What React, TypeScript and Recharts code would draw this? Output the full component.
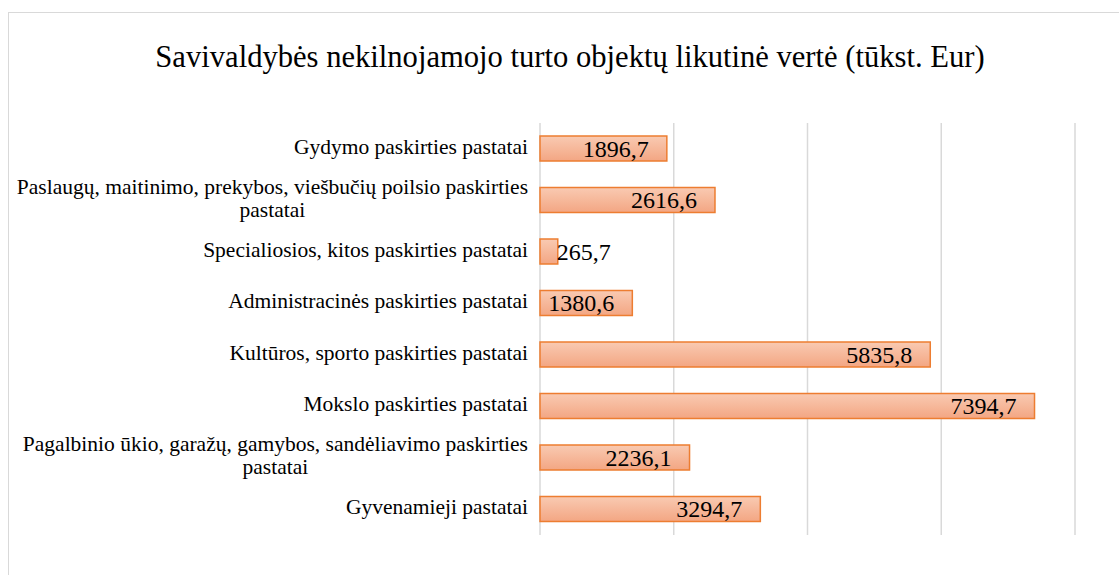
import React from "react";
import { BarChart, Bar, XAxis, YAxis, CartesianGrid, LabelList } from "recharts";

const categories = [
  "Gydymo paskirties pastatai",
  "Paslaugų, maitinimo, prekybos, viešbučių poilsio paskirties\npastatai",
  "Specialiosios, kitos paskirties pastatai",
  "Administracinės paskirties pastatai",
  "Kultūros, sporto paskirties pastatai",
  "Mokslo paskirties pastatai",
  "Pagalbinio ūkio, garažų, gamybos, sandėliavimo paskirties\npastatai",
  "Gyvenamieji pastatai",
];
const values = [1896.7, 2616.6, 265.7, 1380.6, 5835.8, 7394.7, 2236.1, 3294.7];
const valueLabels = ["1896,7", "2616,6", "265,7", "1380,6", "5835,8", "7394,7", "2236,1", "3294,7"];
const xTicks = [0, 2000, 4000, 6000, 8000];
const title = "Savivaldybės nekilnojamojo turto objektų likutinė vertė (tūkst. Eur)";

const data = categories.map((c, i) => ({ name: c, value: values[i], label: valueLabels[i] }));

const FONT = "'Liberation Serif', 'Times New Roman', serif";
const TICK_SIZE = 21.5;
const VAL_SIZE = 24;

let ctx: CanvasRenderingContext2D | null = null;
function measure(text: string, size: number): number {
  if (!ctx) {
    const c = document.createElement("canvas");
    ctx = c.getContext("2d");
  }
  if (!ctx) return text.length * size * 0.45;
  ctx.font = `${size}px ${FONT}`;
  return ctx.measureText(text).width;
}

const YTick = (props: any) => {
  const { x, y, payload } = props;
  const lines: string[] = String(payload.value).split("\n");
  const widths = lines.map((l) => measure(l, TICK_SIZE));
  const w = Math.max(...widths);
  const center = x - w / 2;
  const lh = 23;
  const startY = y - 2 - ((lines.length - 1) * lh) / 2;
  return (
    <g>
      {lines.map((l, i) => (
        <text
          key={i}
          x={center}
          y={startY + i * lh}
          textAnchor="middle"
          dominantBaseline="central"
          fontFamily={FONT}
          fontSize={TICK_SIZE}
          fill="#000"
        >
          {l}
        </text>
      ))}
    </g>
  );
};

const ValueLabel = (props: any) => {
  const { x, y, width, height, value } = props;
  const tw = measure(String(value), VAL_SIZE);
  const pad = 18;
  let tx: number;
  if (width > tw + pad + 4) {
    tx = x + width - pad - tw;
  } else {
    tx = x + width - 1;
  }
  return (
    <text
      x={tx}
      y={y + height / 2}
      textAnchor="start"
      dominantBaseline="central"
      fontFamily={FONT}
      fontSize={VAL_SIZE}
      fill="#000"
    >
      {value}
    </text>
  );
};

export default function App() {
  return (
    <div
      style={{
        position: "fixed",
        left: 8,
        top: 12,
        width: 1111,
        height: 563,
        overflow: "hidden",
        background: "#fff",
      }}
    >
      <div
        style={{
          position: "absolute",
          left: 0,
          top: 0,
          width: 1200,
          height: 700,
          borderLeft: "1.5px solid #d9d9d9",
          borderTop: "1.5px solid #d9d9d9",
          boxSizing: "border-box",
        }}
      />
      <div
        style={{
          position: "absolute",
          left: 0,
          top: 0,
          width: 1124,
          textAlign: "center",
          fontFamily: FONT,
          fontSize: 30.6,
          lineHeight: "34px",
          paddingTop: 28,
          color: "#000",
          whiteSpace: "nowrap",
        }}
      >
        {title}
      </div>
      <div style={{ position: "absolute", left: 0, top: 0 }}>
        <BarChart
          width={1111}
          height={563}
          data={data}
          layout="vertical"
          margin={{ top: 111, right: 44, bottom: 40, left: 0 }}
          barSize={25}
        >
          <defs>
            <linearGradient id="barGrad" x1="0" y1="0" x2="0" y2="1">
              <stop offset="0%" stopColor="#f9cab2" />
              <stop offset="100%" stopColor="#f3a683" />
            </linearGradient>
          </defs>
          <CartesianGrid
            horizontal={false}
            vertical={true}
            stroke="#d9d9d9"
            strokeWidth={1.5}
          />
          <XAxis type="number" domain={[0, 8000]} ticks={xTicks} hide />
          <YAxis
            type="category"
            dataKey="name"
            width={532}
            axisLine={false}
            tickLine={false}
            tickSize={0}
            tickMargin={12}
            tick={<YTick />}
            interval={0}
          />
          <Bar
            dataKey="value"
            fill="url(#barGrad)"
            stroke="#ed7d31"
            strokeWidth={1.5}
            isAnimationActive={false}
          >
            <LabelList dataKey="label" content={<ValueLabel />} />
          </Bar>
        </BarChart>
      </div>
    </div>
  );
}
